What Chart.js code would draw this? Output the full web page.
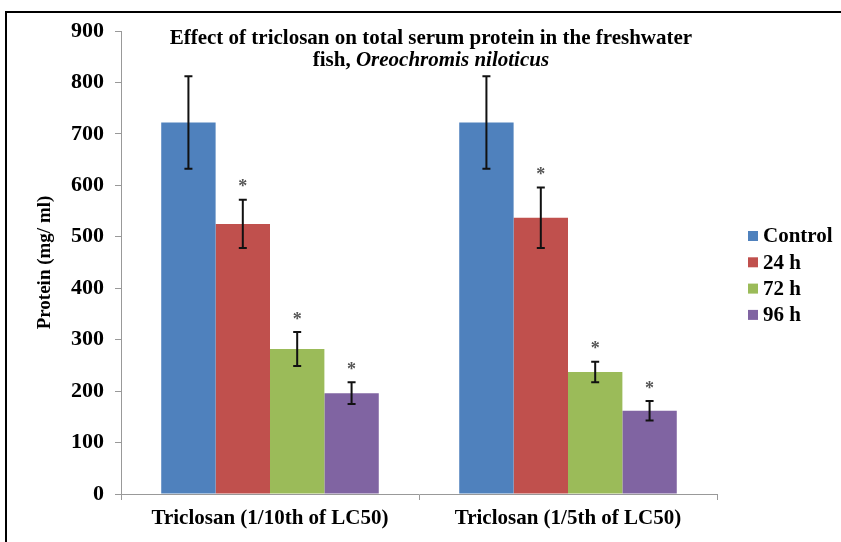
<!DOCTYPE html>
<html>
<head>
<meta charset="utf-8">
<script src="https://cdn.jsdelivr.net/npm/chart.js@4.4.1/dist/chart.umd.min.js"></script>
<style>
  html, body { margin: 0; padding: 0; background: #fff; }
  #wrap { width: 841px; height: 542px; position: relative; }
</style>
</head>
<body>
<div id="wrap"><canvas id="chart"></canvas></div>
<script>
const categories = ['Triclosan (1/10th of LC50)', 'Triclosan (1/5th of LC50)'];
const seriesNames = ['Control', '24 h', '72 h', '96 h'];
const control = [722, 722];
const h24 = [525, 537];
const h72 = [282, 237];
const h96 = [196, 162];
const controlErr = [90, 90];
const h24Err = [47, 59];
const h72Err = [33, 20];
const h96Err = [21, 19];
const significant = [false, true, true, true]; // star over the treated groups
const yTicks = [0, 100, 200, 300, 400, 500, 600, 700, 800, 900];

const colors = ['#4F81BD', '#C0504D', '#9BBB59', '#8064A2'];
const serif = "'Liberation Serif', 'Times New Roman', serif";

const values = [control, h24, h72, h96];
const errors = [controlErr, h24Err, h72Err, h96Err];

const datasets = seriesNames.map((name, i) => ({
    label: name,
    data: values[i],
    errors: errors[i],
    star: significant[i],
    backgroundColor: colors[i],
    borderWidth: 0,
    categoryPercentage: 0.73,
    barPercentage: 1.0
}));

// frame, error bars, stars, title and legend
const extras = {
    id: 'extras',
    beforeDraw(chart) {
        const ctx = chart.ctx;
        ctx.save();
        ctx.strokeStyle = '#000';
        ctx.lineWidth = 2;
        ctx.beginPath();
        ctx.moveTo(6, 542);
        ctx.lineTo(6, 12);
        ctx.lineTo(841, 12);
        ctx.stroke();
        ctx.restore();
    },
    afterDatasetsDraw(chart) {
        const ctx = chart.ctx;
        const y = chart.scales.y;
        ctx.save();
        chart.data.datasets.forEach((ds, di) => {
            const meta = chart.getDatasetMeta(di);
            meta.data.forEach((bar, i) => {
                const v = ds.data[i];
                const e = ds.errors[i];
                const top = y.getPixelForValue(v + e);
                const bot = y.getPixelForValue(v - e);
                ctx.strokeStyle = '#111';
                ctx.lineWidth = 2;
                ctx.beginPath();
                ctx.moveTo(bar.x, top);
                ctx.lineTo(bar.x, bot);
                ctx.moveTo(bar.x - 4, top);
                ctx.lineTo(bar.x + 4, top);
                ctx.moveTo(bar.x - 4, bot);
                ctx.lineTo(bar.x + 4, bot);
                ctx.stroke();
                if (ds.star) {
                    ctx.fillStyle = '#555';
                    ctx.font = 'bold 18px ' + serif;
                    ctx.textAlign = 'center';
                    ctx.textBaseline = 'middle';
                    ctx.fillText('*', bar.x, top - 12);
                }
            });
        });
        ctx.restore();
    },
    afterDraw(chart) {
        const ctx = chart.ctx;
        const area = chart.chartArea;
        const cx = area.left + area.width * 0.52;
        ctx.save();
        ctx.fillStyle = '#000';
        ctx.textBaseline = 'middle';
        ctx.textAlign = 'center';
        ctx.font = 'bold 21px ' + serif;
        ctx.fillText('Effect of triclosan on total serum protein in the freshwater', cx, area.top + 8);
        const part1 = 'fish, ';
        const part2 = 'Oreochromis niloticus';
        ctx.font = 'bold 21px ' + serif;
        const w1 = ctx.measureText(part1).width;
        ctx.font = 'bold italic 21px ' + serif;
        const w2 = ctx.measureText(part2).width;
        let x = cx - (w1 + w2) / 2;
        ctx.textAlign = 'left';
        ctx.font = 'bold 21px ' + serif;
        ctx.fillText(part1, x, area.top + 30);
        ctx.font = 'bold italic 21px ' + serif;
        ctx.fillText(part2, x + w1, area.top + 30);

        // legend
        const lx = area.right + 31;
        chart.data.datasets.forEach((ds, i) => {
            const ly = 236 + i * 26.3;
            ctx.fillStyle = ds.backgroundColor;
            ctx.fillRect(lx, ly - 5, 10, 10);
            ctx.fillStyle = '#000';
            ctx.font = 'bold 21px ' + serif;
            ctx.textAlign = 'left';
            ctx.fillText(ds.label, lx + 15, ly + 1);
        });
        ctx.restore();
    }
};

new Chart(document.getElementById('chart'), {
    type: 'bar',
    data: { labels: categories, datasets: datasets },
    options: {
        responsive: true,
        maintainAspectRatio: false,
        animation: false,
        layout: { padding: { left: 0, right: 124, top: 31, bottom: 0 } },
        plugins: {
            legend: { display: false },
            title: { display: false },
            tooltip: { enabled: false }
        },
        scales: {
            x: {
                grid: { display: true, drawOnChartArea: false, offset: true, tickLength: 6, color: '#999' },
                border: { color: '#999' },
                ticks: { color: '#000', font: { family: serif, size: 21, weight: 'bold' }, padding: 6 },
                afterFit(scale) { scale.height = 48; }
            },
            y: {
                min: 0,
                max: 900,
                afterBuildTicks(scale) { scale.ticks = yTicks.map(v => ({ value: v })); },
                grid: { display: true, drawOnChartArea: false, tickLength: 6, color: '#999' },
                border: { color: '#999' },
                ticks: { color: '#000', font: { family: serif, size: 22, weight: 'bold' }, padding: 11 },
                title: {
                    display: true,
                    text: 'Protein (mg/ ml)',
                    color: '#000',
                    font: { family: serif, size: 19, weight: 'bold' },
                    padding: { top: 34, bottom: 0 }
                },
                afterFit(scale) { scale.width = 121; }
            }
        }
    },
    plugins: [extras]
});
</script>
</body>
</html>
